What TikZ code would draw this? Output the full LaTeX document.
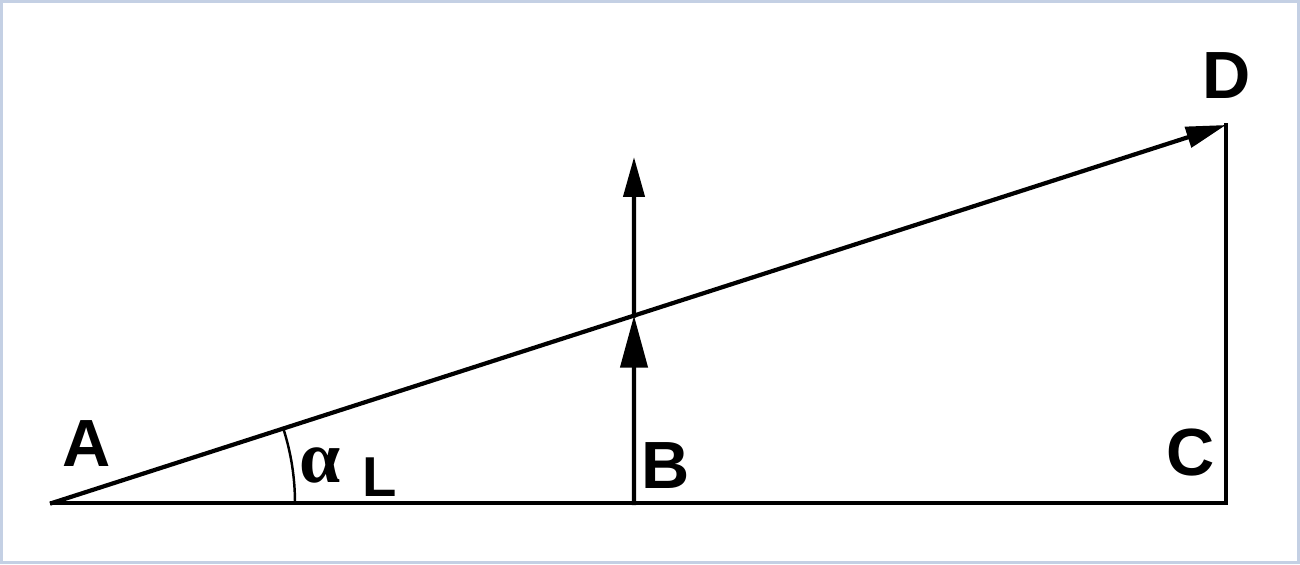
\documentclass[tikz,border=0pt]{standalone}
\usepackage{fontspec}
\setmainfont{Liberation Sans}
\newfontfamily\greekfont{Liberation Serif}
\usetikzlibrary{arrows.meta}

\tikzset{
    frame/.style={draw={rgb,255:red,196;green,208;blue,228}, line width=1.7pt},
    beam/.style={line width=2.4pt, line cap=rect},
    letter/.style={inner sep=0pt, font=\fontsize{38}{40}\selectfont\bfseries},
    bigtip/.style={-{Triangle[length=1.04cm, width=0.54cm]}},
    smalltip/.style={-{Triangle[length=0.8cm, width=0.42cm]}},
}

\begin{document}
\begin{tikzpicture}
    \useasboundingbox (0,0) rectangle (26,11.28);
    \draw[frame] (0.03,0.03) rectangle (25.97,11.25);

    % points of the triangle
    \coordinate (A) at (1.04,1.22);
    \coordinate (B) at (12.68,1.22);
    \coordinate (C) at (24.52,1.22);
    \coordinate (D) at (24.52,8.78);
    \coordinate (F) at (12.68,8.14);
    \coordinate (E) at (intersection of A--D and B--F);

    \draw[beam] (A) -- (C) -- (D);
    \draw[beam, smalltip] (A) -- (D);
    \draw[beam, bigtip] (B) -- (E);
    \draw[beam, smalltip] (E) -- (F);
    \draw[line width=1.4pt] (A) ++(0:4.86) arc[start angle=0, end angle=17.85, radius=4.86];

    % labels
    \node[letter] (la) at (1.74,2.40) {A};
    \node[letter] (lb) at (13.32,1.96) {B};
    \node[letter] (lc) at (23.82,2.22) {C};
    \node[letter] (ld) at (24.54,9.76) {D};
    \node[inner sep=0pt, font=\fontsize{32}{34}\selectfont\bfseries] (ll) at (7.6,1.74) {L};
    \node[inner sep=0pt, font=\greekfont\fontsize{42}{44}\selectfont\bfseries] (lalpha) at (6.4,1.98) {α};
\end{tikzpicture}
\end{document}
